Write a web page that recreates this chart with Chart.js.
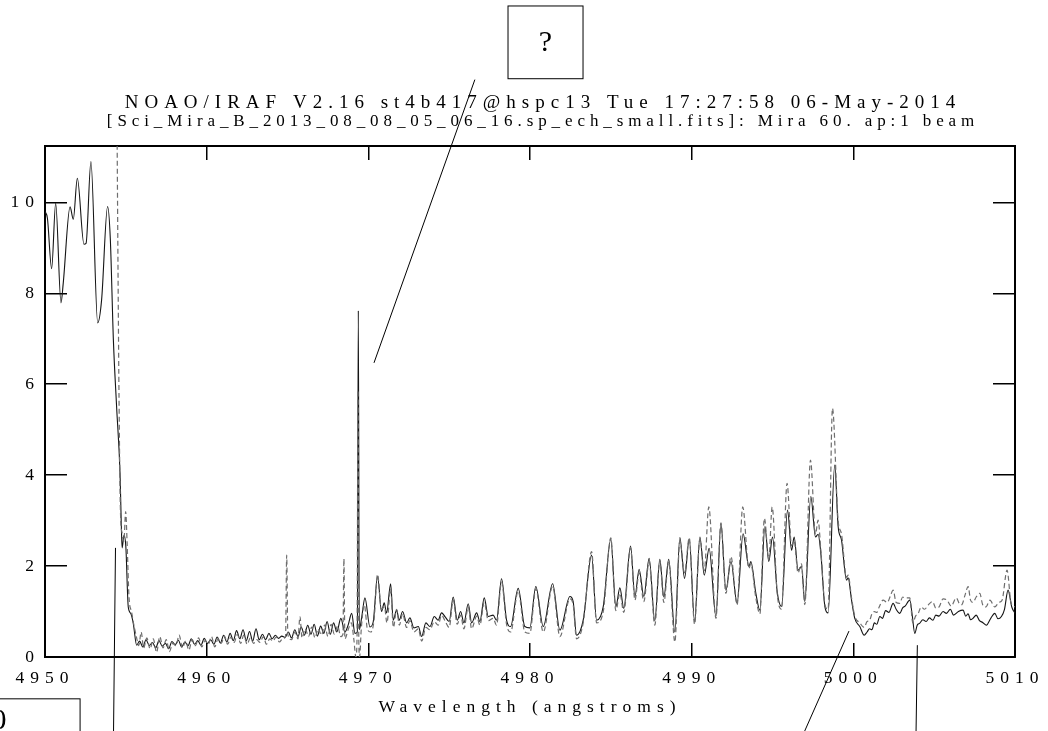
<!DOCTYPE html>
<html>
<head>
<meta charset="utf-8">
<title>Mira spectrum</title>
<script src="https://cdn.jsdelivr.net/npm/chart.js@4.4.1/dist/chart.umd.min.js"></script>
<style>
  html, body { margin: 0; padding: 0; background: #fff; overflow: hidden; }
  canvas { display: block; }
</style>
</head>
<body>
<canvas id="spec" width="1048" height="731"></canvas>
<script>
// ── Data (wavelength in Å, flux) ─────────────────────────────────
const titleLine = 'NOAO/IRAF V2.16 st4b417@hspc13 Tue 17:27:58 06-May-2014';
const subtitleLine = '[Sci_Mira_B_2013_08_08_05_06_16.sp_ech_small.fits]: Mira 60. ap:1 beam';
const xLabel = 'Wavelength (angstroms)';
const xTicks = [4950, 4960, 4970, 4980, 4990, 5000, 5010];
const yTicks = [0, 2, 4, 6, 8, 10];

// solid trace
const solidWave = [
  4950.00, 4950.15, 4950.41, 4950.66, 4950.99, 4951.13, 4951.55, 4951.75, 4952.00, 4952.41,
  4952.54, 4952.84, 4953.26, 4953.50, 4953.87, 4954.04, 4954.23, 4954.43, 4954.64, 4954.72,
  4954.77, 4954.89, 4955.00, 4955.15, 4955.30, 4955.46, 4955.67, 4955.85, 4956.05, 4956.25,
  4956.45, 4956.65, 4956.85, 4957.05, 4957.25, 4957.45, 4957.65, 4957.85, 4958.05, 4958.25,
  4958.45, 4958.65, 4958.85, 4959.05, 4959.25, 4959.45, 4959.65, 4959.85, 4960.05, 4960.25,
  4960.45, 4960.65, 4960.85, 4961.05, 4961.25, 4961.45, 4961.65, 4961.85, 4962.05, 4962.25,
  4962.45, 4962.65, 4962.85, 4963.05, 4963.25, 4963.45, 4963.65, 4963.85, 4964.05, 4964.25,
  4964.45, 4964.65, 4964.85, 4965.05, 4965.25, 4965.45, 4965.65, 4965.85, 4966.05, 4966.25,
  4966.45, 4966.65, 4966.85, 4967.05, 4967.25, 4967.45, 4967.65, 4967.85, 4968.05, 4968.30,
  4968.55, 4968.75, 4968.97, 4969.17, 4969.32, 4969.38, 4969.44, 4969.60, 4969.79, 4970.10,
  4970.30, 4970.57, 4970.82, 4970.98, 4971.13, 4971.38, 4971.54, 4971.75, 4971.91, 4972.12,
  4972.37, 4972.57, 4972.82, 4973.09, 4973.30, 4973.56, 4973.81, 4974.08, 4974.32, 4974.53,
  4974.74, 4975.00, 4975.25, 4975.50, 4975.71, 4975.91, 4976.18, 4976.39, 4976.70, 4976.90,
  4977.17, 4977.42, 4977.72, 4977.93, 4978.24, 4978.55, 4978.80, 4979.27, 4979.68, 4979.99,
  4980.36, 4980.82, 4981.40, 4981.85, 4982.47, 4982.67, 4982.88, 4983.29, 4983.81, 4984.12,
  4984.53, 4985.00, 4985.31, 4985.56, 4985.80, 4986.22, 4986.49, 4986.75, 4987.04, 4987.37,
  4987.72, 4988.03, 4988.28, 4988.58, 4988.96, 4989.27, 4989.56, 4989.85, 4990.18, 4990.51,
  4990.78, 4991.08, 4991.50, 4991.81, 4992.12, 4992.43, 4992.81, 4993.18, 4993.54, 4993.66,
  4993.97, 4994.22, 4994.53, 4994.77, 4995.00, 4995.29, 4995.56, 4995.93, 4996.18, 4996.34,
  4996.58, 4996.79, 4997.00, 4997.37, 4997.66, 4997.82, 4997.99, 4998.24, 4998.44, 4998.85,
  4999.06, 4999.27, 4999.58, 4999.68, 4999.89, 5000.09, 5000.40, 5000.67, 5000.85, 5001.00,
  5001.15, 5001.30, 5001.45, 5001.64, 5001.80, 5002.00, 5002.20, 5002.46, 5002.65, 5002.87,
  5003.05, 5003.20, 5003.49, 5003.65, 5003.80, 5003.95, 5004.10, 5004.30, 5004.50, 5004.70,
  5004.93, 5005.10, 5005.30, 5005.55, 5005.76, 5006.00, 5006.20, 5006.50, 5006.79, 5006.95,
  5007.10, 5007.25, 5007.40, 5007.60, 5007.80, 5008.00, 5008.23, 5008.50, 5008.75, 5008.95,
  5009.16, 5009.35, 5009.57, 5009.80, 5010.00
];
const solidFlux = [
  9.80, 9.65, 8.54, 9.98, 7.79, 8.23, 9.90, 9.63, 10.53, 9.08,
  9.10, 10.90, 7.35, 7.85, 9.91, 9.20, 6.97, 5.50, 4.05, 2.90,
  2.40, 2.68, 2.43, 1.10, 0.96, 0.74, 0.26, 0.35, 0.22, 0.38,
  0.25, 0.32, 0.20, 0.36, 0.24, 0.30, 0.18, 0.34, 0.27, 0.37,
  0.22, 0.33, 0.25, 0.40, 0.28, 0.36, 0.26, 0.41, 0.30, 0.38,
  0.28, 0.44, 0.31, 0.48, 0.33, 0.52, 0.36, 0.58, 0.40, 0.60,
  0.36, 0.56, 0.35, 0.62, 0.38, 0.50, 0.38, 0.52, 0.40, 0.48,
  0.41, 0.46, 0.43, 0.55, 0.42, 0.60, 0.45, 0.66, 0.48, 0.70,
  0.50, 0.72, 0.46, 0.68, 0.52, 0.78, 0.50, 0.75, 0.55, 0.85,
  0.55, 0.70, 0.96, 0.52, 0.55, 7.62, 0.60, 0.90, 1.30, 0.66,
  0.77, 1.77, 1.00, 1.19, 0.97, 1.61, 0.81, 1.03, 0.81, 1.00,
  0.75, 0.86, 0.64, 0.67, 0.45, 0.75, 0.67, 0.89, 0.81, 0.97,
  0.89, 0.78, 1.32, 0.81, 1.00, 0.75, 1.17, 0.75, 0.97, 0.78,
  1.30, 0.89, 0.92, 0.81, 1.72, 0.81, 0.67, 1.51, 0.67, 0.64,
  1.55, 0.67, 1.61, 0.59, 1.33, 1.22, 0.48, 0.81, 2.24, 0.81,
  1.11, 2.59, 1.11, 1.52, 1.07, 2.44, 1.33, 1.93, 1.33, 2.17,
  0.80, 2.15, 1.32, 2.15, 0.55, 2.63, 1.73, 2.60, 0.78, 2.64,
  1.80, 2.39, 0.89, 2.93, 1.47, 2.10, 1.18, 2.71, 1.99, 2.10,
  1.40, 1.03, 2.87, 2.10, 2.64, 1.44, 1.11, 3.23, 2.35, 2.64,
  1.91, 1.99, 1.22, 3.53, 2.64, 2.70, 2.28, 1.11, 0.97, 4.22,
  2.87, 2.57, 1.69, 1.74, 1.25, 0.85, 0.67, 0.48, 0.55, 0.62,
  0.60, 0.75, 0.72, 0.89, 0.85, 1.02, 0.98, 1.18, 1.05, 0.96,
  1.08, 1.12, 1.25, 0.90, 0.52, 0.70, 0.74, 0.82, 0.78, 0.86,
  0.81, 0.92, 0.90, 1.00, 0.96, 1.05, 0.92, 1.00, 1.03, 0.90,
  0.95, 0.82, 0.85, 0.92, 0.80, 0.76, 0.70, 0.85, 0.96, 0.84,
  0.89, 1.05, 1.47, 1.10, 0.96
];

// dashed trace (starts off the top of the plot)
const dashWave = [
  4954.44, 4954.53, 4954.58, 4954.66, 4954.78, 4954.88, 4954.99, 4955.08, 4955.20, 4955.35,
  4955.50, 4955.65, 4955.80, 4955.95, 4956.10, 4956.30, 4956.50, 4956.70, 4956.90, 4957.10,
  4957.30, 4957.50, 4957.70, 4957.90, 4958.10, 4958.30, 4958.50, 4958.70, 4958.90, 4959.10,
  4959.30, 4959.50, 4959.70, 4959.90, 4960.10, 4960.30, 4960.50, 4960.70, 4960.90, 4961.10,
  4961.30, 4961.50, 4961.70, 4961.90, 4962.10, 4962.30, 4962.50, 4962.70, 4962.90, 4963.10,
  4963.30, 4963.50, 4963.70, 4963.90, 4964.10, 4964.30, 4964.50, 4964.70, 4964.88, 4964.95,
  4965.02, 4965.25, 4965.45, 4965.65, 4965.77, 4965.90, 4966.10, 4966.30, 4966.50, 4966.70,
  4966.90, 4967.10, 4967.30, 4967.50, 4967.70, 4967.90, 4968.10, 4968.30, 4968.43, 4968.49,
  4968.55, 4968.75, 4968.95, 4969.10, 4969.23, 4969.30, 4969.36, 4969.41, 4969.46, 4969.56,
  4969.75, 4969.95, 4970.15, 4970.35, 4970.57, 4970.80, 4971.00, 4971.15, 4971.38, 4971.55,
  4971.75, 4971.92, 4972.12, 4972.37, 4972.57, 4972.82, 4973.09, 4973.30, 4973.56, 4973.81,
  4974.08, 4974.32, 4974.53, 4974.74, 4975.00, 4975.25, 4975.50, 4975.71, 4975.91, 4976.18,
  4976.39, 4976.70, 4976.90, 4977.17, 4977.42, 4977.72, 4977.93, 4978.24, 4978.55, 4978.80,
  4979.27, 4979.68, 4979.99, 4980.36, 4980.82, 4981.40, 4981.85, 4982.47, 4982.67, 4982.88,
  4983.29, 4983.81, 4984.12, 4984.53, 4985.00, 4985.31, 4985.56, 4985.80, 4986.22, 4986.49,
  4986.75, 4987.04, 4987.37, 4987.72, 4988.03, 4988.28, 4988.58, 4988.96, 4989.27, 4989.56,
  4989.85, 4990.18, 4990.51, 4990.78, 4991.06, 4991.50, 4991.81, 4992.12, 4992.43, 4992.81,
  4993.16, 4993.54, 4993.66, 4993.97, 4994.22, 4994.50, 4994.77, 4994.98, 4995.29, 4995.56,
  4995.90, 4996.18, 4996.34, 4996.58, 4996.79, 4997.00, 4997.35, 4997.66, 4997.82, 4997.99,
  4998.24, 4998.44, 4998.71, 4999.06, 4999.27, 4999.58, 4999.68, 4999.89, 5000.09, 5000.40,
  5000.67, 5000.85, 5001.00, 5001.15, 5001.30, 5001.45, 5001.60, 5001.84, 5002.10, 5002.30,
  5002.46, 5002.65, 5002.87, 5003.05, 5003.20, 5003.49, 5003.68, 5003.85, 5004.00, 5004.20,
  5004.40, 5004.65, 5004.90, 5005.10, 5005.30, 5005.55, 5005.80, 5006.05, 5006.37, 5006.55,
  5006.70, 5006.90, 5007.10, 5007.25, 5007.40, 5007.60, 5007.82, 5008.00, 5008.20, 5008.45,
  5008.75, 5009.00, 5009.20, 5009.51, 5009.75, 5010.00
];
const dashFlux = [
  12.50, 7.85, 5.65, 3.30, 2.70, 2.55, 3.20, 2.50, 1.30, 1.00,
  0.70, 0.45, 0.25, 0.55, 0.20, 0.42, 0.18, 0.40, 0.10, 0.45,
  0.20, 0.38, 0.12, 0.30, 0.25, 0.48, 0.20, 0.35, 0.15, 0.38,
  0.25, 0.42, 0.22, 0.36, 0.28, 0.45, 0.22, 0.40, 0.30, 0.46,
  0.28, 0.44, 0.32, 0.50, 0.30, 0.48, 0.28, 0.42, 0.30, 0.38,
  0.32, 0.45, 0.28, 0.40, 0.35, 0.44, 0.33, 0.40, 0.45, 2.24,
  0.50, 0.38, 0.55, 0.40, 0.89, 0.42, 0.62, 0.45, 0.66, 0.42,
  0.62, 0.48, 0.70, 0.45, 0.72, 0.50, 0.68, 0.45, 0.50, 2.16,
  0.40, 0.60, 0.75, 0.40, 0.00, 0.40, 5.87, 0.40, 0.00, 0.60,
  1.15, 0.60, 0.55, 0.80, 1.82, 1.05, 1.10, 0.75, 1.50, 0.65,
  1.05, 0.70, 0.95, 0.65, 0.80, 0.55, 0.62, 0.35, 0.65, 0.60,
  0.78, 0.70, 0.92, 0.80, 0.65, 1.25, 0.72, 0.92, 0.62, 1.10,
  0.62, 0.90, 0.70, 1.20, 0.80, 0.85, 0.70, 1.65, 0.72, 0.55,
  1.45, 0.55, 0.52, 1.50, 0.55, 1.55, 0.45, 1.28, 1.15, 0.40,
  0.75, 2.32, 0.75, 1.00, 2.62, 1.02, 1.40, 0.98, 2.40, 1.25,
  1.85, 1.22, 2.10, 0.70, 2.12, 1.20, 2.10, 0.33, 2.55, 1.85,
  2.62, 0.72, 2.60, 1.90, 3.30, 0.85, 2.95, 1.40, 2.21, 1.15,
  3.30, 1.95, 2.05, 1.30, 0.95, 3.05, 2.15, 3.30, 1.40, 1.05,
  3.82, 2.45, 2.55, 1.85, 2.05, 1.15, 4.33, 2.70, 3.01, 2.35,
  1.15, 1.05, 5.47, 3.00, 2.70, 1.75, 1.80, 1.30, 0.90, 0.75,
  0.65, 0.78, 0.80, 0.95, 1.00, 0.98, 1.10, 1.25, 1.20, 1.35,
  1.47, 1.20, 1.18, 1.32, 1.30, 1.30, 0.75, 0.90, 0.95, 1.10,
  1.05, 1.15, 1.22, 1.08, 1.10, 1.28, 1.25, 1.12, 1.30, 1.18,
  1.15, 1.35, 1.55, 1.25, 1.20, 1.32, 1.40, 1.15, 1.10, 1.25,
  1.10, 1.20, 1.25, 1.91, 1.20, 1.10
];

// hand-drawn callouts, in data units (wavelength, flux)
const calloutLines = [
  [4976.59, 12.70, 4970.35, 6.47],
  [4954.36, 2.40, 4954.24, -1.63],
  [4999.73, 0.57, 4996.99, -1.63],
  [5003.96, 0.26, 5003.88, -1.63]
];
const calloutBoxes = [
  { text: '?', x0: 4978.64, x1: 4983.28, y0: 12.72, y1: 14.32, tx: 4980.96, ty: 13.51 },
  { text: '0', x0: 4946.60, x1: 4952.17, y0: -1.94, y1: -0.92, tx: 4947.15, ty: -1.41 }
];

const toPoints = (w, f) => w.map((x, i) => ({ x, y: f[i] }));

// ── Plugins ──────────────────────────────────────────
// IRAF text is widely spaced; the file-name line a bit tighter
const spacingPlugin = {
  id: 'spacing',
  beforeDraw(chart) {
    chart.ctx.letterSpacing = '6px';
    chart.boxes.forEach(b => {
      if (b._spaced || !b.options || b.options.text !== subtitleLine) return;
      const draw = b.draw.bind(b);
      b.draw = function (area) {
        const c = this.ctx;
        const prev = c.letterSpacing;
        c.letterSpacing = '4.9px';
        draw(area);
        c.letterSpacing = prev;
      };
      b._spaced = true;
    });
  }
};

const calloutPlugin = {
  id: 'callouts',
  afterDraw(chart) {
    const { ctx, scales: { x, y } } = chart;
    ctx.save();
    ctx.letterSpacing = '0px';
    ctx.strokeStyle = '#000';
    ctx.lineWidth = 1;
    calloutLines.forEach(([a, b, c, d]) => {
      ctx.beginPath();
      ctx.moveTo(x.getPixelForValue(a), y.getPixelForValue(b));
      ctx.lineTo(x.getPixelForValue(c), y.getPixelForValue(d));
      ctx.stroke();
    });
    calloutBoxes.forEach(b => {
      const l = x.getPixelForValue(b.x0), r = x.getPixelForValue(b.x1);
      const t = y.getPixelForValue(b.y1), btm = y.getPixelForValue(b.y0);
      ctx.fillStyle = '#fff';
      ctx.fillRect(l, t, r - l, btm - t);
      ctx.strokeRect(l, t, r - l, btm - t);
      ctx.fillStyle = '#000';
      ctx.font = '30px "Liberation Serif", serif';
      ctx.textAlign = 'center';
      ctx.textBaseline = 'middle';
      ctx.fillText(b.text, x.getPixelForValue(b.tx), y.getPixelForValue(b.ty));
    });
    ctx.restore();
  }
};

// ── Chart ────────────────────────────────────────────
const axisFont = { family: '"Liberation Serif", serif', size: 17.5 };
const inwardGrid = len => ({ drawOnChartArea: false, tickLength: len, color: '#000', lineWidth: 1.5 });
const frame = { display: true, color: '#000', width: 2 };

new Chart(document.getElementById('spec'), {
  type: 'line',
  data: {
    datasets: [
      {
        label: 'dashed',
        data: toPoints(dashWave, dashFlux),
        borderColor: '#6e6e6e',
        borderWidth: 1.2,
        borderDash: [5, 3],
        pointRadius: 0,
        cubicInterpolationMode: 'monotone',
        order: 0
      },
      {
        label: 'solid',
        data: toPoints(solidWave, solidFlux),
        borderColor: '#151515',
        borderWidth: 1.1,
        pointRadius: 0,
        cubicInterpolationMode: 'monotone',
        order: 1
      }
    ]
  },
  options: {
    responsive: false,
    devicePixelRatio: 1,
    animation: false,
    layout: { padding: { left: 38, right: 0, top: 0, bottom: 0 } },
    plugins: {
      legend: { display: false },
      tooltip: { enabled: false },
      title: {
        display: true,
        text: titleLine,
        color: '#000',
        font: { family: '"Liberation Serif", serif', size: 19, weight: 'normal', lineHeight: 1 },
        padding: { top: 94, bottom: 0 }
      },
      subtitle: {
        display: true,
        text: subtitleLine,
        color: '#000',
        font: { family: '"Liberation Serif", serif', size: 17, weight: 'normal', lineHeight: 1 },
        padding: { top: 0, bottom: 16 }
      }
    },
    scales: {
      x: {
        type: 'linear',
        position: 'bottom',
        min: xTicks[0],
        max: xTicks[xTicks.length - 1],
        afterBuildTicks: s => { s.ticks = xTicks.map(v => ({ value: v })); },
        ticks: {
          color: '#000', font: axisFont, padding: 24.5,
          maxRotation: 0, autoSkip: false,
          callback: v => String(v)
        },
        grid: inwardGrid(-14),
        border: frame,
        title: {
          display: true, text: xLabel, color: '#000', font: axisFont,
          padding: { top: 0, bottom: 12.8 }
        },
        afterFit: s => { s.height = 74; s.paddingLeft = 0; s.paddingRight = 0; }
      },
      xTop: {
        type: 'linear',
        position: 'top',
        min: xTicks[0],
        max: xTicks[xTicks.length - 1],
        afterBuildTicks: s => { s.ticks = xTicks.map(v => ({ value: v })); },
        ticks: { display: false },
        grid: inwardGrid(-14),
        border: frame,
        afterFit: s => { s.height = 0; s.paddingLeft = 0; s.paddingRight = 0; }
      },
      y: {
        type: 'linear',
        position: 'left',
        min: 0,
        max: 11.24,
        afterBuildTicks: s => { s.ticks = yTicks.map(v => ({ value: v })); },
        ticks: {
          color: '#000', font: axisFont, mirror: true, crossAlign: 'far', padding: -22.5,
          callback: v => String(v)
        },
        grid: inwardGrid(-22),
        border: frame,
        afterFit: s => { s.width = 7; }
      },
      yRight: {
        type: 'linear',
        position: 'right',
        min: 0,
        max: 11.24,
        afterBuildTicks: s => { s.ticks = yTicks.map(v => ({ value: v })); },
        ticks: { display: false },
        grid: inwardGrid(-22),
        border: frame,
        afterFit: s => { s.width = 33; }
      }
    }
  },
  plugins: [spacingPlugin, calloutPlugin]
});
</script>
</body>
</html>
